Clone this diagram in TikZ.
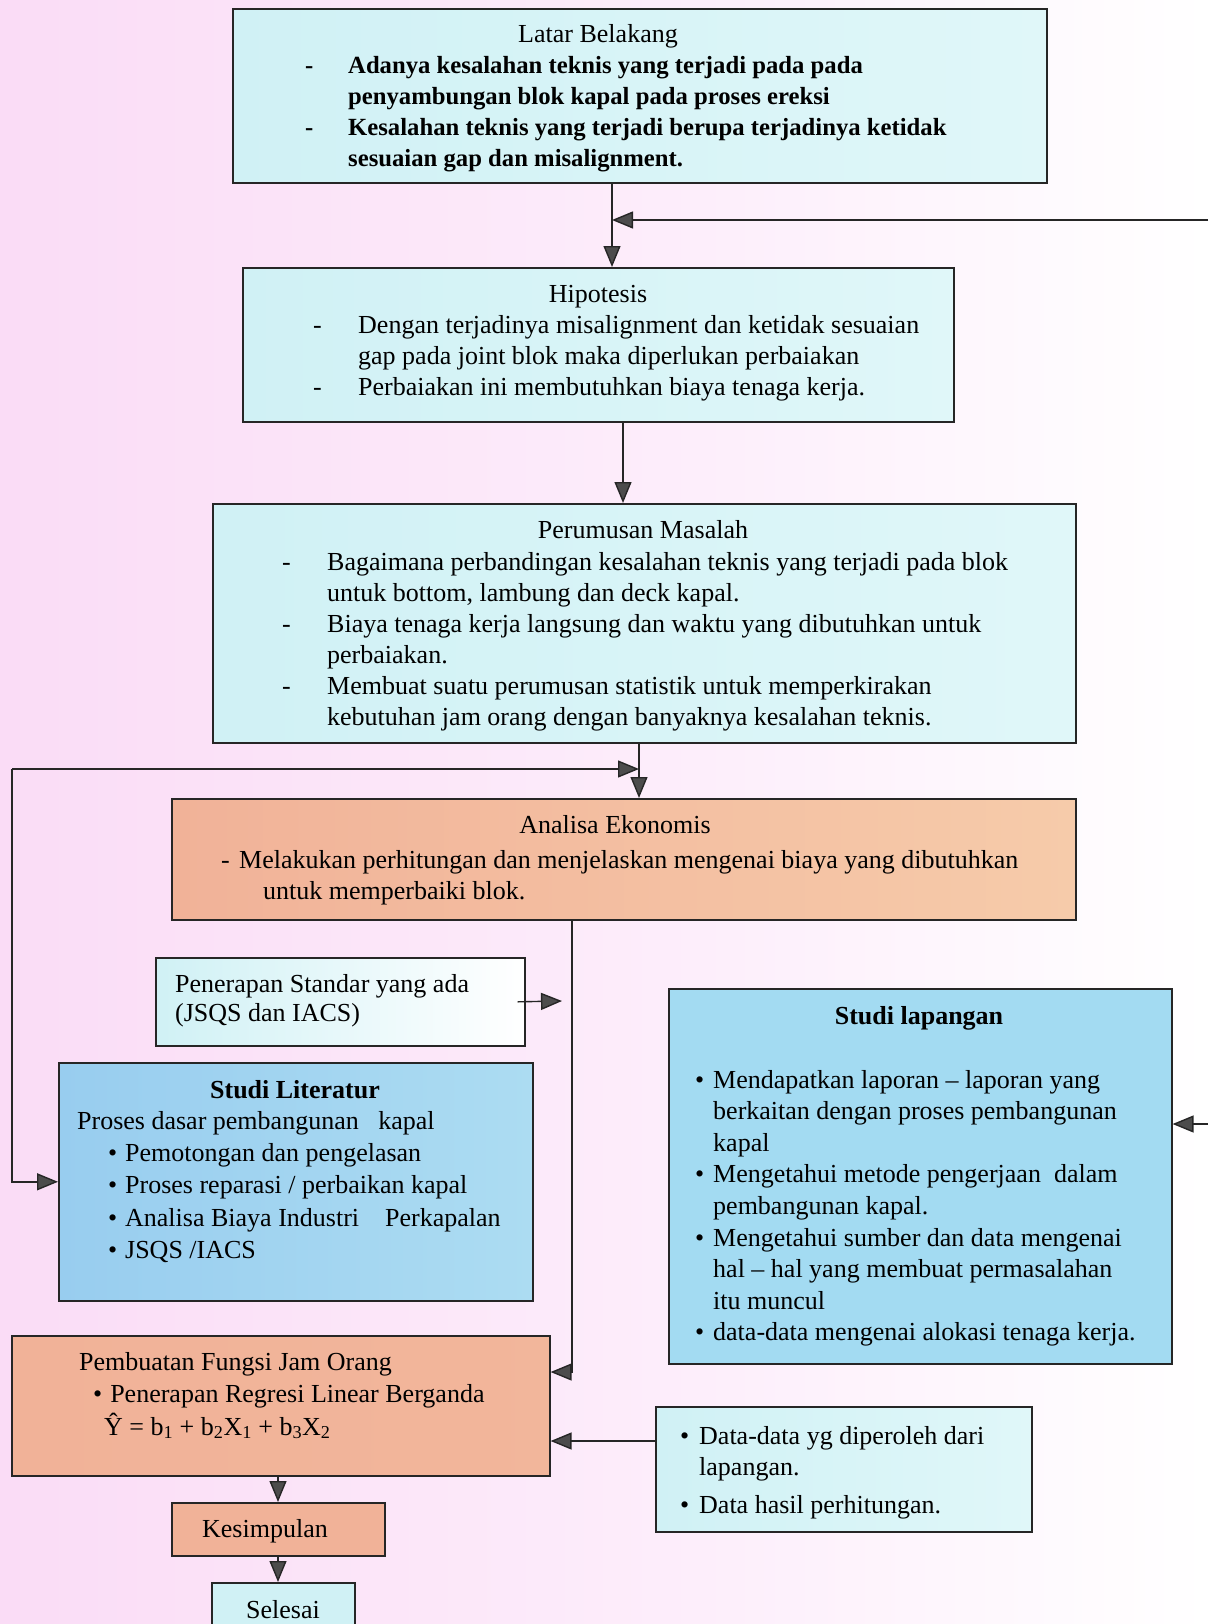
\documentclass[tikz,border=0pt]{standalone}
\usepackage{fontspec}
\setmainfont{Liberation Serif}
\usetikzlibrary{arrows.meta,calc}
\definecolor{bgpink}{RGB}{250,220,246}
\definecolor{bgpinkB}{RGB}{253,238,251}
\definecolor{cyA}{RGB}{208,241,245}
\definecolor{cyB}{RGB}{224,247,249}
\definecolor{saA}{RGB}{241,178,152}
\definecolor{saB}{RGB}{246,203,170}
\definecolor{blA}{RGB}{152,205,239}
\definecolor{blB}{RGB}{172,220,242}
\definecolor{blC}{RGB}{163,219,242}
\begin{document}
\begin{tikzpicture}[x=1pt,y=-1pt,
  font=\fontsize{26}{31}\selectfont,
  box/.style={draw=black!85,line width=1.6pt,inner sep=0,anchor=north west},
  arr/.style={-{Triangle[length=21pt,width=17pt,fill=black!70]},line width=1.4pt,draw=black!85},
  lbl/.style={inner sep=0,anchor=base west},
  ttl/.style={inner sep=0,anchor=base}]
\useasboundingbox (0,0) rectangle (1208,1624);
\shade[left color=bgpink,right color=bgpinkB] (0,0) rectangle (700,1624);
\shade[left color=bgpinkB,right color=white] (700,0) rectangle (1208,1624);

% boxes
\node[box,left color=cyA,right color=cyB,minimum width=814pt,minimum height=174pt] (lat) at (232,8) {};
\node[box,left color=cyA,right color=cyB,minimum width=711pt,minimum height=154pt] (hip) at (242,267) {};
\node[box,left color=cyA,right color=cyB,minimum width=863pt,minimum height=239pt] (per) at (212,503) {};
\node[box,left color=saA,right color=saB,minimum width=904pt,minimum height=121pt] (ana) at (171,798) {};
\node[box,left color=cyA,right color=white,minimum width=369pt,minimum height=88pt] (pen) at (155,957) {};
\node[box,fill=blC,minimum width=503pt,minimum height=375pt] (lap) at (668,988) {};
\node[box,left color=blA,right color=blB,minimum width=474pt,minimum height=238pt] (lit) at (58,1062) {};
\node[box,left color=saA,right color=saA!85!saB,minimum width=538pt,minimum height=140pt] (pem) at (11,1335) {};
\node[box,left color=cyA,right color=cyB,minimum width=376pt,minimum height=125pt] (dat) at (655,1406) {};
\node[box,fill=saA,minimum width=213pt,minimum height=53pt] (kes) at (171,1502) {};
\node[box,fill=cyA,minimum width=143pt,minimum height=60pt] (sel) at (211,1582) {};

% texts
\node[ttl] (latT) at (598,43) {Latar Belakang};
\node[lbl] (latB) at (305,74) {\fontsize{24.7}{31}\selectfont\bfseries\begin{tabular}[t]{@{}p{43pt}@{}l@{}}
-&Adanya kesalahan teknis yang terjadi pada pada\\
&penyambungan blok kapal pada proses ereksi\\
-&Kesalahan teknis yang terjadi berupa terjadinya ketidak\\
&sesuaian gap dan misalignment.\end{tabular}};

\node[ttl] (hipT) at (598,302) {Hipotesis};
\node[lbl] (hipB) at (313,333) {\begin{tabular}[t]{@{}p{45pt}@{}l@{}}
-&Dengan terjadinya misalignment dan ketidak sesuaian\\
&gap pada joint blok maka diperlukan perbaiakan\\
-&Perbaiakan ini membutuhkan biaya tenaga kerja.\end{tabular}};

\node[ttl] (perT) at (643,538) {Perumusan Masalah};
\node[lbl] (perB) at (282,570) {\begin{tabular}[t]{@{}p{45pt}@{}l@{}}
-&Bagaimana perbandingan kesalahan teknis yang terjadi pada blok\\
&untuk bottom, lambung dan deck kapal.\\
-&Biaya tenaga kerja langsung dan waktu yang dibutuhkan untuk\\
&perbaiakan.\\
-&Membuat suatu perumusan statistik untuk memperkirakan\\
&kebutuhan jam orang dengan banyaknya kesalahan teknis.\end{tabular}};

\node[ttl] (anaT) at (615,833) {Analisa Ekonomis};
\node[lbl] (anaB) at (221,868) {\begin{tabular}[t]{@{}p{18pt}@{}l@{}}
-&Melakukan perhitungan dan menjelaskan mengenai biaya yang dibutuhkan\\
&\hspace{24pt}untuk memperbaiki blok.\end{tabular}};

\node[lbl] (penB) at (175,992) {\fontsize{26}{29}\selectfont\begin{tabular}[t]{@{}l@{}}
Penerapan Standar yang ada\\(JSQS dan IACS)\end{tabular}};

\node[ttl] (lapT) at (919,1024) {\bfseries Studi lapangan};
\node[lbl] (lapB) at (695,1088) {\fontsize{26}{31.6}\selectfont\begin{tabular}[t]{@{}p{18pt}@{}l@{}}
•&Mendapatkan laporan – laporan yang\\
&berkaitan dengan proses pembangunan\\
&kapal\\
•&Mengetahui metode pengerjaan\ \ dalam\\
&pembangunan kapal.\\
•&Mengetahui sumber dan data mengenai\\
&hal – hal yang membuat permasalahan\\
&itu muncul\\
•&data-data mengenai alokasi tenaga kerja.\end{tabular}};

\node[ttl] (litT) at (295,1098) {\bfseries Studi Literatur};
\node[lbl] (litA) at (77,1129) {Proses dasar pembangunan\ \ \ kapal};
\node[lbl] (litB) at (108,1161) {\fontsize{26}{32.6}\selectfont\begin{tabular}[t]{@{}p{17pt}@{}l@{}}
•&Pemotongan dan pengelasan\\
•&Proses reparasi / perbaikan kapal\\
•&Analisa Biaya Industri\ \ \ \ Perkapalan\\
•&JSQS /IACS\end{tabular}};

\node[lbl] (pemA) at (79,1370) {Pembuatan Fungsi Jam Orang};
\node[lbl] (pemB) at (93,1402) {•\hspace{8pt}Penerapan Regresi Linear Berganda};
\node[lbl] (pemC) at (104,1435) {Ŷ = b\textsubscript{1} + b\textsubscript{2}X\textsubscript{1} + b\textsubscript{3}X\textsubscript{2}};

\node[lbl] (datB) at (680,1444) {\begin{tabular}[t]{@{}p{19pt}@{}l@{}}
•&Data-data yg diperoleh dari\\
&lapangan.\\[7pt]
•&Data hasil perhitungan.\end{tabular}};

\node[ttl] (kesT) at (265,1537) {Kesimpulan};
\node[ttl] (selT) at (283,1618) {Selesai};

% connectors
\coordinate (r1) at (1208,220);
\coordinate (r2) at (1208,1124);
\draw[arr] (r1) -- (612,220);
\draw[arr] ([xshift=380pt]lat.south west) -- ([xshift=370pt]hip.north west);
\draw[arr] ([xshift=381pt]hip.south west) -- ([xshift=411pt]per.north west);
\draw[arr] ([xshift=427pt]per.south west) -- ([xshift=468pt]ana.north west);
\coordinate (j1) at (639,769);
\coordinate (j2) at (12,769);
\draw[arr] (j2) -- (j1);
\draw[arr] (j2) |- (lit.west);
\draw[arr] ([xshift=401pt]ana.south west) |- ([yshift=-37pt]pem.north east);
\coordinate (p1) at (562,1001);
\draw[arr] ([xshift=-8pt]pen.east) -- (p1);
\draw[arr] (r2) -- (lap.east |- r2);
\draw[arr] ([yshift=-35pt]dat.north west) -- ([yshift=-35pt]dat.north west -| pem.east);
\draw[arr] ([xshift=267pt]pem.south west) -- ([xshift=107pt]kes.north west);
\draw[arr] ([xshift=107pt]kes.south west) -- ([xshift=67pt]sel.north west);
\end{tikzpicture}
\end{document}
